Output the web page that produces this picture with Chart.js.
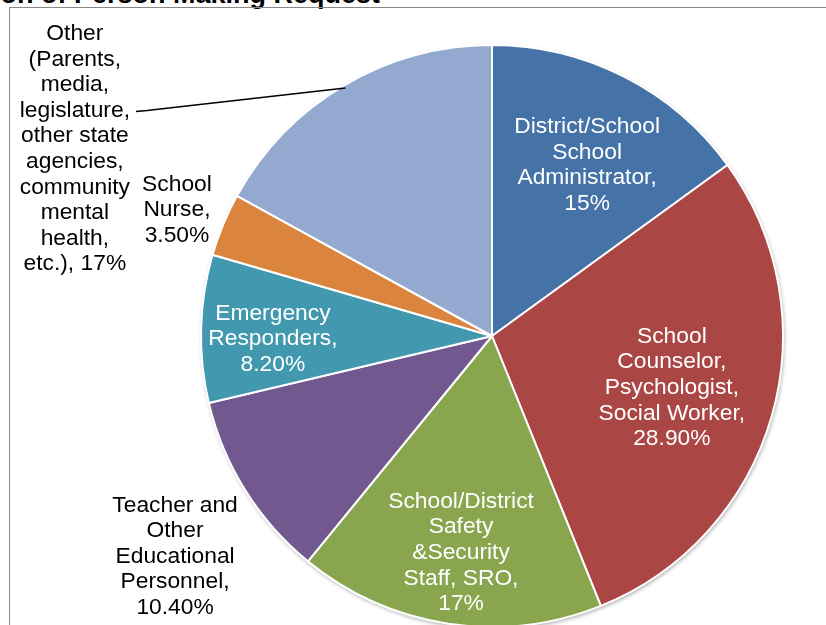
<!DOCTYPE html>
<html>
<head>
<meta charset="utf-8">
<script src="https://cdn.jsdelivr.net/npm/chart.js@4.4.0/dist/chart.umd.min.js"></script>
<style>
  html, body { margin: 0; padding: 0; background: #fff; overflow: hidden; width: 826px; height: 625px; }
  #heading { position: absolute; right: 446px; top: -19px; white-space: nowrap;
             font: bold 27px "Liberation Sans", Arial, sans-serif; line-height: 27px; color: #000; }
  #frame { position: absolute; left: 9px; top: 7px; width: 900px; height: 700px;
           border-left: 1px solid #878787; border-top: 1px solid #878787; }
  #pieChart { position: absolute; left: 0; top: 0; }
</style>
</head>
<body>
<div id="heading">Position of Person Making Request</div>
<div id="frame"></div>
<canvas id="pieChart" width="826" height="680"></canvas>
<script>
const categories = [
  'District/School School Administrator',
  'School Counselor, Psychologist, Social Worker',
  'School/District Safety &Security Staff, SRO',
  'Teacher and Other Educational Personnel',
  'Emergency Responders',
  'School Nurse',
  'Other (Parents, media, legislature, other state agencies, community mental health, etc.)'
];
const shares = [15, 28.9, 17, 10.4, 8.2, 3.5, 17];
// wrapped data label text, {v} is replaced by the share
const labelTemplates = [
  'District/School\nSchool\nAdministrator,\n{v}',
  'School\nCounselor,\nPsychologist,\nSocial Worker,\n{v}',
  'School/District\nSafety\n&Security\nStaff, SRO,\n{v}',
  'Teacher and\nOther\nEducational\nPersonnel,\n{v}',
  'Emergency\nResponders,\n{v}',
  'School\nNurse,\n{v}',
  'Other\n(Parents,\nmedia,\nlegislature,\nother state\nagencies,\ncommunity\nmental\nhealth,\netc.), {v}'
];

const sliceColors = ['#4572A7', '#AA4643', '#89A54E', '#71588F', '#4198AF', '#DB843D', '#93A9CF'];

// label placement: radius as a fraction of the pie radius, angle shift in degrees from slice middle
const placement = [
  { r: 0.672, shift: 2.1,    color: '#fff' },
  { r: 0.643, shift: 0,      color: '#fff' },
  { r: 0.752, shift: -0.5,   color: '#fff' },
  { r: 1.327, shift: -2.8,   color: '#000' },
  { r: 0.753, shift: -2.2,   color: '#fff' },
  { r: 1.166, shift: -0.7,   color: '#000' },
  { r: 1.571, shift: -35.25, color: '#000', leaderLine: 3 }
];

const LABEL_FONT = '22.8px "Liberation Sans", Arial, sans-serif';
const LINE_HEIGHT = 25.6;

function formatShare(v) {
  return (Number.isInteger(v) ? String(v) : v.toFixed(2)) + '%';
}

const pieLabels = {
  id: 'pieLabels',
  beforeDatasetsDraw(chart) {
    // soft shadow under the whole pie
    const first = chart.getDatasetMeta(0).data[0];
    const ctx = chart.ctx;
    ctx.save();
    ctx.shadowColor = 'rgba(0,0,0,0.35)';
    ctx.shadowBlur = 4;
    ctx.shadowOffsetX = 1;
    ctx.shadowOffsetY = 2;
    ctx.fillStyle = '#fff';
    ctx.beginPath();
    ctx.arc(first.x, first.y, first.outerRadius, 0, Math.PI * 2);
    ctx.fill();
    ctx.restore();
  },
  afterDatasetsDraw(chart) {
    const ctx = chart.ctx;
    const arcs = chart.getDatasetMeta(0).data;
    ctx.save();
    ctx.font = LABEL_FONT;
    ctx.textAlign = 'center';
    ctx.textBaseline = 'middle';
    arcs.forEach((arc, i) => {
      const p = placement[i];
      const mid = (arc.startAngle + arc.endAngle) / 2;
      const ang = mid + p.shift * Math.PI / 180;
      const R = arc.outerRadius;
      const lx = arc.x + Math.cos(ang) * R * p.r;
      const ly = arc.y + Math.sin(ang) * R * p.r;
      const lines = labelTemplates[i].replace('{v}', formatShare(shares[i])).split('\n');
      const top = ly - (lines.length - 1) / 2 * LINE_HEIGHT;
      ctx.fillStyle = p.color;
      lines.forEach((t, k) => ctx.fillText(t, lx, top + k * LINE_HEIGHT));

      if (p.leaderLine !== undefined) {
        const w = ctx.measureText(lines[p.leaderLine]).width;
        const sx = lx + w / 2 + 6;
        const sy = top + p.leaderLine * LINE_HEIGHT + 1;
        const ex = arc.x + Math.cos(mid) * R * 0.99;
        const ey = arc.y + Math.sin(mid) * R * 0.99;
        ctx.strokeStyle = '#000';
        ctx.lineWidth = 1.5;
        ctx.beginPath();
        ctx.moveTo(sx, sy);
        ctx.lineTo(sx + 11, sy - 1);
        ctx.lineTo(ex, ey);
        ctx.stroke();
      }
    });
    ctx.restore();
  }
};

new Chart(document.getElementById('pieChart').getContext('2d'), {
  type: 'pie',
  data: {
    labels: categories,
    datasets: [{
      data: shares,
      backgroundColor: sliceColors,
      borderColor: '#fff',
      borderWidth: 2
    }]
  },
  options: {
    responsive: false,
    animation: false,
    layout: { padding: { left: 200, right: 42, top: 44, bottom: 52 } },
    plugins: {
      legend: { display: false },
      tooltip: { enabled: false }
    }
  },
  plugins: [pieLabels]
});
</script>
</body>
</html>
